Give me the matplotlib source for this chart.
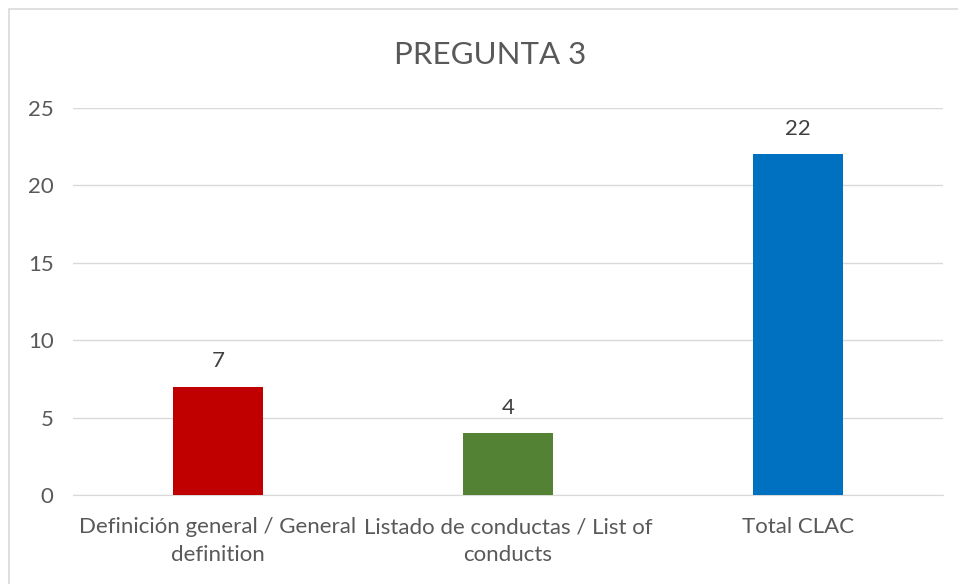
import matplotlib.pyplot as plt
from matplotlib.patches import Rectangle

# chart data
categories = ["Definición general / General\ndefinition",
              "Listado de conductas / List of\nconducts",
              "Total CLAC"]
values = [7, 4, 22]
colors = ["#C00000", "#548235", "#0070C0"]
yticks = [0, 5, 10, 15, 20, 25]

plt.rcParams['font.family'] = ['Lato', 'DejaVu Sans']
text_gray = "#595959"

fig = plt.figure(figsize=(9.58, 5.84), dpi=100)
ax = fig.add_axes([73 / 958, 1 - 495 / 584, 870 / 958, 387 / 584])

# light border around the chart area (cut off right and bottom)
fig.patches.append(Rectangle((9 / 958, -0.1), 1.2, 1 - 9 / 584 + 0.1,
                             transform=fig.transFigure, fill=False,
                             edgecolor="#D9D9D9", linewidth=1.2))

x = range(len(categories))
bars = ax.bar(x, values, width=0.31, color=colors, zorder=3)
ax.bar_label(bars, padding=11, fontsize=16, color="#404040")

ax.set_xlim(-0.5, 2.5)
ax.set_ylim(0, 25)
ax.set_yticks(yticks)
ax.set_xticks(list(x))
ax.set_xticklabels(categories, fontsize=16, color=text_gray, linespacing=1.5)
ax.tick_params(axis="y", labelsize=16, labelcolor=text_gray, length=0, pad=14)
ax.tick_params(axis="x", length=0, pad=16)
ax.grid(axis="y", color="#D9D9D9", linewidth=1, zorder=0)
for side in ["top", "right", "left"]:
    ax.spines[side].set_visible(False)
ax.spines["bottom"].set_color("#D9D9D9")

fig.text(490 / 958, 1 - 55 / 584, "PREGUNTA 3", ha="center", va="center",
         fontsize=22.5, color=text_gray)

fig.savefig("out.png", dpi=100)
